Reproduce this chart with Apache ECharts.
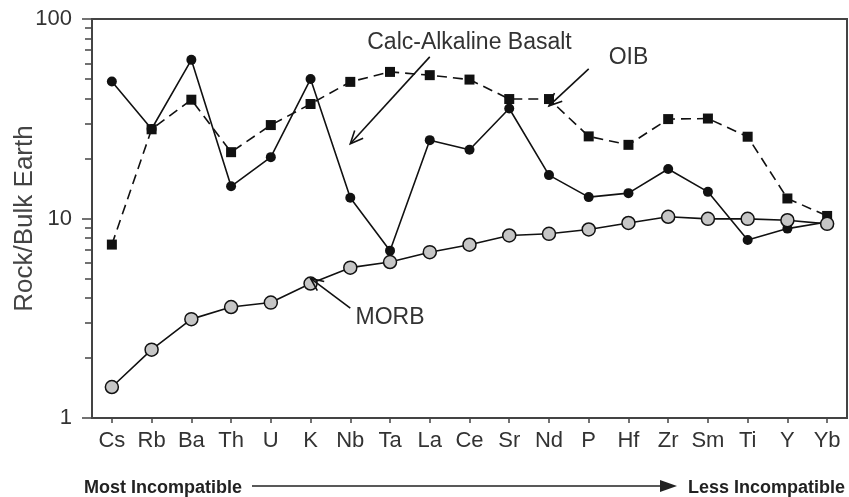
<!DOCTYPE html>
<html><head><meta charset="utf-8">
<script src="https://cdn.jsdelivr.net/npm/echarts@6/dist/echarts.min.js"></script>
<style>html,body{margin:0;padding:0;background:#fff}#c{width:849px;height:497px}</style>
</head><body><div id="c"></div>
<script>
const elements = ['Cs','Rb','Ba','Th','U','K','Nb','Ta','La','Ce','Sr','Nd','P','Hf','Zr','Sm','Ti','Y','Yb'];
const calcAlkaline = [48.6,28.1,62.4,14.5,20.3,50,12.7,6.9,24.7,22.1,35.6,16.5,12.8,13.4,17.7,13.6,7.8,8.9,9.6];
const oib = [7.4,28,39.4,21.5,29.4,37.5,48.4,54.3,52.3,49.7,39.7,39.7,25.8,23.4,31.5,31.7,25.7,12.6,10.3];
const morb = [1.43,2.2,3.13,3.6,3.79,4.72,5.67,6.05,6.78,7.39,8.22,8.38,8.81,9.5,10.2,9.96,9.96,9.8,9.4];
const yMajorTicks = [1,10,100];
const yMinorTicks = [2,3,4,5,6,7,8,9,20,30,40,50,60,70,80,90];
// annotations in data space: [category index, value]
const annCalc = {text:'Calc-Alkaline Basalt', at:[8.93,75.9], from:[7.6,64.6], to:[5.64,23.7]};
const annOIB = {text:'OIB', at:[13.03,63.8], from:[12.25,56.2], to:[11.3,36.7]};
const annMORB = {text:'MORB', at:[7.4,3.2], from:[6.32,3.55], to:[5.44,5.01]};

const FONT = '"Liberation Sans", Arial, sans-serif';
const INK = '#111';
const chart = echarts.init(document.getElementById('c'), null, {renderer:'canvas'});
const option = {
  animation:false,
  backgroundColor:'#fff',
  textStyle:{fontFamily:FONT},
  grid:{left:92,right:2,top:19,bottom:79,containLabel:false,outerBoundsMode:'none',
    show:true,borderColor:'#444',borderWidth:2,backgroundColor:'transparent'},
  xAxis:{type:'category',data:elements,boundaryGap:true,
    axisLine:{lineStyle:{color:'#444',width:2}},
    axisTick:{show:true,alignWithLabel:true,length:5,lineStyle:{color:'#444',width:1.5}},
    axisLabel:{fontSize:22,color:'#333',margin:12,fontFamily:FONT,interval:0},
    splitLine:{show:false}},
  yAxis:[{type:'log',logBase:10,min:yMajorTicks[0],max:yMajorTicks[yMajorTicks.length-1],
    name:'Rock/Bulk Earth',nameLocation:'middle',nameRotate:90,nameGap:54,nameMoveOverlap:false,
    nameTextStyle:{fontSize:26,color:'#444',fontFamily:FONT},
    axisLine:{show:true,lineStyle:{color:'#444',width:2}},
    axisTick:{show:true,length:10,lineStyle:{color:'#444',width:1.5}},
    axisLabel:{fontSize:22,color:'#333',margin:20,fontFamily:FONT},
    splitLine:{show:false},minorTick:{show:false}},
   // helper axis in log10 space, only used to draw the minor ticks 2..9, 20..90
   {type:'value',min:0,max:2,position:'left',
    axisLine:{show:false},
    axisTick:{show:true,length:7,customValues:yMinorTicks.map(v=>Math.log10(v)),lineStyle:{color:'#444',width:1.5}},
    axisLabel:{show:false},splitLine:{show:false}}],
  series:[
    {name:'Calc-Alkaline Basalt',type:'line',data:calcAlkaline,symbol:'circle',symbolSize:10,
      lineStyle:{color:INK,width:1.6},itemStyle:{color:INK},z:3},
    {name:'OIB',type:'line',data:oib,symbol:'rect',symbolSize:10,
      lineStyle:{color:INK,width:1.6,type:[10,6]},itemStyle:{color:INK},z:2},
    {name:'MORB',type:'line',data:morb,symbol:'circle',symbolSize:13,
      lineStyle:{color:INK,width:1.6},itemStyle:{color:'#c6c6c6',borderColor:INK,borderWidth:1.5},z:4}
  ]
};
chart.setOption(option);

function px(p){return chart.convertToPixel({xAxisIndex:0,yAxisIndex:0},p);}
const g = [];
function openArrow(a,b){
  const ang = Math.atan2(b[1]-a[1], b[0]-a[0]);
  const L = 14, w = 0.42;
  g.push({type:'line',shape:{x1:a[0],y1:a[1],x2:b[0],y2:b[1]},style:{stroke:INK,lineWidth:1.6},z:10});
  g.push({type:'polyline',shape:{points:[
    [b[0]-L*Math.cos(ang-w), b[1]-L*Math.sin(ang-w)], b,
    [b[0]-L*Math.cos(ang+w), b[1]-L*Math.sin(ang+w)]]},style:{stroke:INK,lineWidth:1.6,fill:null},z:10});
}
[annCalc,annOIB,annMORB].forEach(a=>{
  const t = px(a.at);
  g.push({type:'text',x:t[0],y:t[1],style:{text:a.text,fill:'#333',font:'23px '+FONT,align:'center',verticalAlign:'middle'},z:10});
  openArrow(px(a.from),px(a.to));
});
// bottom caption
g.push({type:'text',x:84,y:488,style:{text:'Most Incompatible',fill:'#222',font:'bold 18px '+FONT,align:'left',verticalAlign:'middle'},z:10});
g.push({type:'text',x:845,y:488,style:{text:'Less Incompatible',fill:'#222',font:'bold 18px '+FONT,align:'right',verticalAlign:'middle'},z:10});
g.push({type:'line',shape:{x1:252,y1:486,x2:662,y2:486},style:{stroke:'#222',lineWidth:1.6},z:10});
g.push({type:'polygon',shape:{points:[[660,480],[677,486],[660,492]]},style:{fill:'#222'},z:10});
chart.setOption({graphic:g});
</script>
</body></html>
